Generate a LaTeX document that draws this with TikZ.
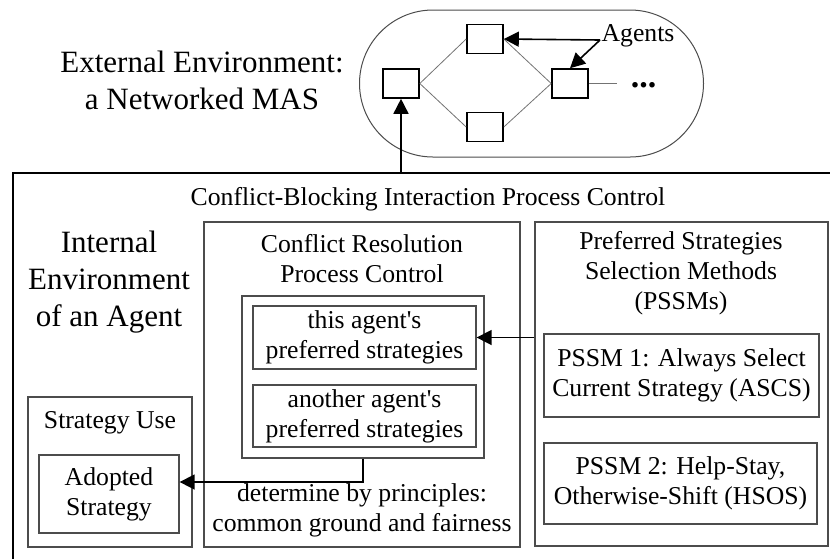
\documentclass[tikz,border=0pt]{standalone}
\usepackage{fontspec}
\setmainfont{Liberation Serif}
\usetikzlibrary{arrows.meta,positioning}

\begin{document}
\begin{tikzpicture}[x=1pt,y=-1pt,
	box/.style={draw=black!70,line width=1.3pt,inner sep=0pt},
	agent/.style={draw,line width=1.6pt,minimum width=36,minimum height=29,inner sep=0pt},
	link/.style={draw=black!55,line width=0.8pt},
	arr/.style={-{Triangle[length=15pt,width=15pt]},line width=1.6pt},
	big/.style={font=\fontsize{31}{37}\selectfont,align=center,inner sep=0pt},
	mid/.style={font=\fontsize{25.7}{30}\selectfont,align=center,inner sep=0pt}]
		\useasboundingbox (0,0) rectangle (830,558);
		\clip (0,0) rectangle (830,558);

		% External environment
		\node[big] (ext) at (202,80) {External Environment:\\a Networked MAS};
		\node[draw=black!70,line width=1pt,minimum width=344,minimum height=147,rounded corners=73.5] (mas) at (531.5,83.5) {};
		\node[agent] (a1) at (401,83.5) {};
		\node[agent] (a2) at (485,39) {};
		\node[agent] (a3) at (485,127) {};
		\node[agent] (a4) at (570,83.5) {};
		\coordinate (more) at (617,83.5);
		\node[big,anchor=base] (dots) at (643.5,87) {\bfseries\fontsize{34}{37}\selectfont ...};
		\node[mid] (agents) at (638,36) {Agents};
		\coordinate (agentsptr) at (600,40);

		% Internal environment
		\node[draw,line width=1.6pt,minimum width=832,minimum height=402] (cbip) at (429,374) {};
		\node[mid] (cbiptitle) at (428,199) {Conflict-Blocking Interaction Process Control};
		\node[big] (int) at (109,282) {Internal\\Environment\\of an Agent};

		\node[box,minimum width=164,minimum height=150] (su) at (110,472) {};
		\node[mid] (sutitle) at (110,423) {Strategy Use};
		\node[box,mid,minimum width=140,minimum height=78] (adopted) at (109,494) {Adopted\\Strategy};

		\node[box,minimum width=316,minimum height=325] (crpc) at (362,384.5) {};
		\node[mid] (crpctitle) at (362,258.5) {Conflict Resolution\\Process Control};
		\node[box,minimum width=242,minimum height=162] (prefs) at (363,377) {};
		\node[box,mid,minimum width=223,minimum height=63] (thispref) at (364.5,337.5) {this agent\textquotesingle s\\preferred strategies};
		\node[box,mid,minimum width=223,minimum height=62] (otherpref) at (364.5,416) {another agent\textquotesingle s\\preferred strategies};
		\node[mid] (rule) at (362,510) {determine by principles:\\common ground and fairness};

		\node[box,minimum width=293,minimum height=324] (pssms) at (681.5,384) {};
		\node[mid] (pssmstitle) at (681,273) {Preferred Strategies\\Selection Methods\\(PSSMs)};
		\node[box,mid,minimum width=275,minimum height=83] (pssm1) at (681.5,375.5) {PSSM 1: Always Select\\Current Strategy (ASCS)};
		\node[box,mid,minimum width=273,minimum height=81] (pssm2) at (680.5,483.5) {PSSM 2: Help-Stay,\\Otherwise-Shift (HSOS)};

		% Connect the nodes
		\draw[link] (a1.east) -- (a2.west);
		\draw[link] (a1.east) -- (a3.west);
		\draw[link] (a2.east) -- (a4.west);
		\draw[link] (a3.east) -- (a4.west);
		\draw[link] (a4.east) -- (more);
		\draw[arr] (agentsptr) -- (a2.east);
		\draw[arr] (agentsptr) -- (a4.north);
		\draw[arr] (a1.south |- cbip.north) -- (a1.south);
		\draw[arr] (thispref.east -| pssms.west) -- (thispref.east);
		\draw[arr] (prefs.south) |- ([yshift=12pt]adopted.east);
	\end{tikzpicture}
\end{document}
